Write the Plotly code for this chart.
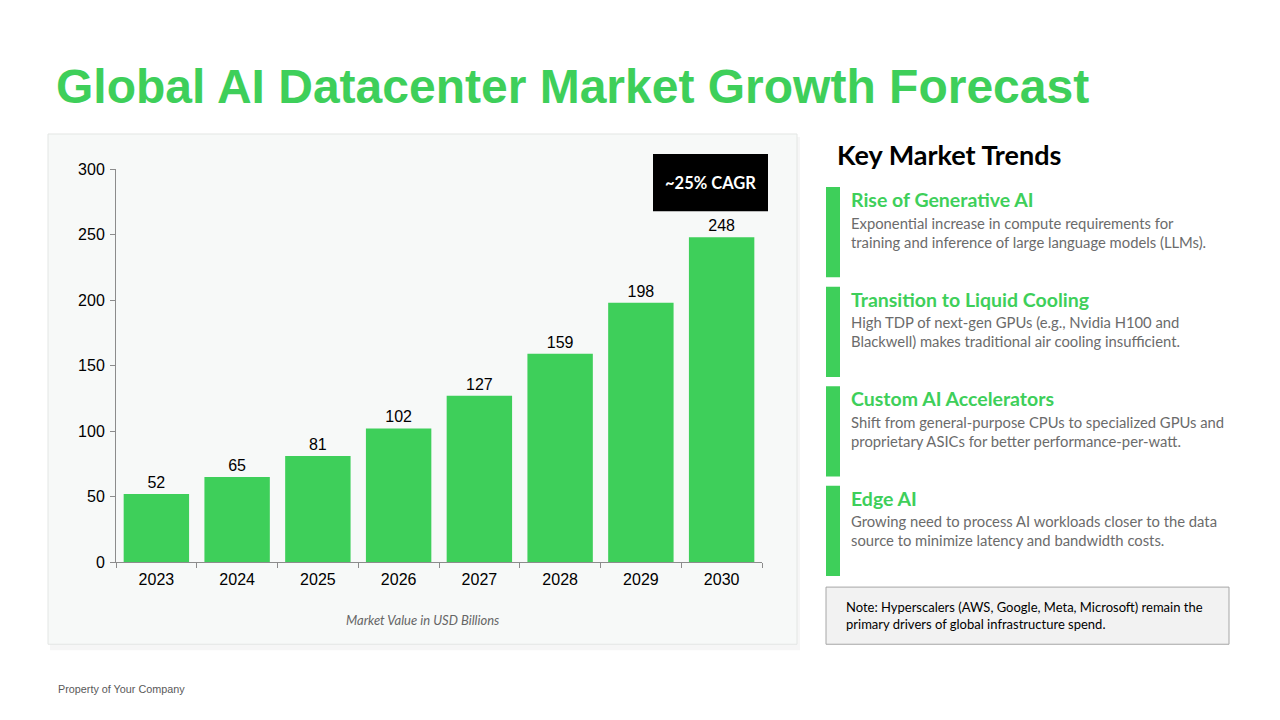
import plotly.graph_objects as go

# ---- data ----
years = ['2023', '2024', '2025', '2026', '2027', '2028', '2029', '2030']
market_value = [52, 65, 81, 102, 127, 159, 198, 248]

trend_titles = ['Rise of Generative AI', 'Transition to Liquid Cooling',
                'Custom AI Accelerators', 'Edge AI']
trend_texts = [
    'Exponential increase in compute requirements for<br>training and inference of large language models (LLMs).',
    'High TDP of next-gen GPUs (e.g., Nvidia H100 and<br>Blackwell) makes traditional air cooling insufficient.',
    'Shift from general-purpose CPUs to specialized GPUs and<br>proprietary ASICs for better performance-per-watt.',
    'Growing need to process AI workloads closer to the data<br>source to minimize latency and bandwidth costs.',
]
note_text = 'Note: Hyperscalers (AWS, Google, Meta, Microsoft) remain the<br>primary drivers of global infrastructure spend.'

GREEN = '#3ECF5A'
W, H = 1280, 720


# screen pixel -> paper fraction (page offsets the figure a little)
def px(x):
    return (x - 8) / W


def py(y):
    return 1 - ((y - 16.3) / 0.974) / H


fig = go.Figure()
fig.add_trace(go.Bar(x=years, y=market_value,
                     marker=dict(color=GREEN, line=dict(width=0)),
                     text=market_value, textposition='outside',
                     textfont=dict(family='Arial', size=16, color='black'),
                     cliponaxis=False, hoverinfo='skip'))

fig.update_layout(width=W, height=H,
                  margin=dict(l=0, r=0, t=0, b=0),
                  paper_bgcolor='white', plot_bgcolor='rgba(0,0,0,0)',
                  showlegend=False, bargap=0.19,
                  font=dict(family='Arial', color='black'))

fig.update_xaxes(domain=[px(116), px(762)],
                 showgrid=False, showline=True, linecolor='#8c8c8c', linewidth=1,
                 ticks='outside', tickson='boundaries', ticklen=5, tickcolor='#8c8c8c',
                 ticklabelstandoff=3,
                 tickfont=dict(family='Arial', size=16, color='black'),
                 fixedrange=True)

fig.update_yaxes(domain=[py(561), py(169)], range=[0, 300], dtick=50,
                 showgrid=False, zeroline=False,
                 showline=True, linecolor='#8c8c8c', linewidth=1,
                 ticks='outside', ticklen=5, tickcolor='#8c8c8c',
                 ticklabelstandoff=2,
                 tickfont=dict(family='Arial', size=16, color='black'),
                 fixedrange=True)

shapes = []
# chart panel (soft shadow + card)
shapes.append(dict(type='rect', xref='paper', yref='paper', layer='below',
                   x0=px(50), x1=px(800), y0=py(649), y1=py(137),
                   fillcolor='rgba(0,0,0,0.035)', line=dict(width=0)))
shapes.append(dict(type='rect', xref='paper', yref='paper', layer='below',
                   x0=px(48), x1=px(797), y0=py(643), y1=py(134),
                   fillcolor='#f7f9f8', line=dict(color='#e3e6e4', width=1)))
# CAGR badge
shapes.append(dict(type='rect', xref='paper', yref='paper',
                   x0=px(653), x1=px(768), y0=py(211), y1=py(154),
                   fillcolor='black', line=dict(width=0)))
# trend accent bars
for i in range(len(trend_titles)):
    top = 187 + i * 99.3
    shapes.append(dict(type='rect', xref='paper', yref='paper',
                       x0=px(826), x1=px(840), y0=py(top + 90), y1=py(top),
                       fillcolor=GREEN, line=dict(width=0)))
# note box
shapes.append(dict(type='rect', xref='paper', yref='paper',
                   x0=px(826), x1=px(1229), y0=py(643), y1=py(586),
                   fillcolor='#f2f2f2', line=dict(color='#a6a6a6', width=1)))

annotations = []
annotations.append(dict(text='<b>Global AI Datacenter Market Growth Forecast</b>',
                        x=px(54), y=py(87), xref='paper', yref='paper',
                        xanchor='left', yanchor='middle', showarrow=False,
                        font=dict(family='Arial', size=48, color=GREEN)))
annotations.append(dict(text='<b>~25% CAGR</b>', x=px(710.5), y=py(182.5),
                        xref='paper', yref='paper', xanchor='center', yanchor='middle',
                        showarrow=False,
                        font=dict(family='Lato', size=16.5, color='white')))
annotations.append(dict(text='<i>Market Value in USD Billions</i>', x=px(422), y=py(619),
                        xref='paper', yref='paper', xanchor='center', yanchor='middle',
                        showarrow=False,
                        font=dict(family='Lato', size=13, color='#666666')))
annotations.append(dict(text='<b>Key Market Trends</b>', x=px(835), y=py(154),
                        xref='paper', yref='paper', xanchor='left', yanchor='middle',
                        showarrow=False,
                        font=dict(family='Lato', size=27, color='black')))
for i, (t, d) in enumerate(zip(trend_titles, trend_texts)):
    top = 187 + i * 99.3
    annotations.append(dict(text='<b>' + t + '</b>', x=px(849), y=py(top + 12.5),
                            xref='paper', yref='paper', xanchor='left', yanchor='middle',
                            showarrow=False,
                            font=dict(family='Lato', size=19.5, color=GREEN)))
    annotations.append(dict(text=d, x=px(849), y=py(top + 24.5), align='left',
                            xref='paper', yref='paper', xanchor='left', yanchor='top',
                            showarrow=False,
                            font=dict(family='Lato', size=14.8, color='#6b6b6b')))
annotations.append(dict(text=note_text, x=px(844), y=py(614.5), align='left',
                        xref='paper', yref='paper', xanchor='left', yanchor='middle',
                        showarrow=False,
                        font=dict(family='Lato', size=13, color='black')))
annotations.append(dict(text='Property of Your Company', x=px(56), y=py(688),
                        xref='paper', yref='paper', xanchor='left', yanchor='middle',
                        showarrow=False,
                        font=dict(family='Arial', size=10.8, color='#595959')))

fig.update_layout(shapes=shapes, annotations=annotations)

fig.write_html("out.html")
